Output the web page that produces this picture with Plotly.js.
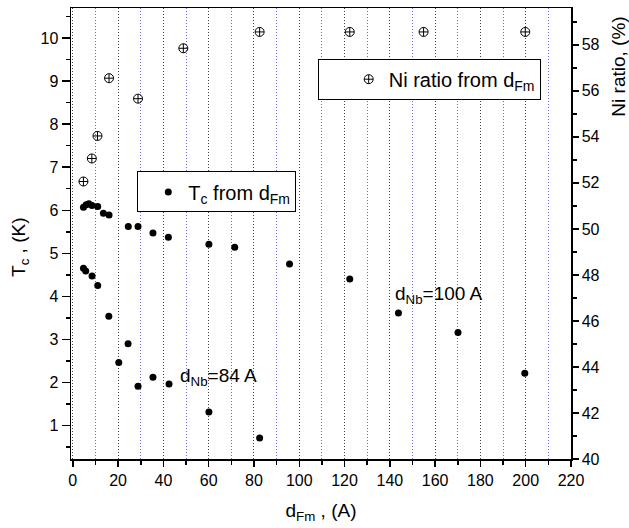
<!DOCTYPE html>
<html>
<head>
<meta charset="utf-8">
<script src="https://cdn.plot.ly/plotly-3.0.1.min.js"></script>
<style>html,body{margin:0;padding:0;background:#fff;}#chart{width:629px;height:528px;}</style>
</head>
<body>
<div id="chart"></div>
<script>
// Ni ratio (right axis, %)
const niX = [4.7, 8.4, 10.9, 16.0, 28.8, 48.8, 82.5, 122.3, 154.9, 199.8];
const niY = [52.06, 53.06, 54.04, 56.55, 55.66, 57.85, 58.56, 58.56, 58.56, 58.56];

// Tc, upper branch (left axis, K)
const tcUpperX = [4.7, 5.9, 7.1, 8.5, 11.0, 13.5, 16.0, 24.5, 28.8, 35.4, 42.2, 60.1, 71.5, 95.7, 122.3, 143.8, 170.1, 199.6];
const tcUpperY = [6.07, 6.13, 6.15, 6.11, 6.09, 5.93, 5.89, 5.62, 5.62, 5.47, 5.37, 5.21, 5.14, 4.75, 4.40, 3.61, 3.16, 2.21];

// Tc, lower branch (left axis, K)
const tcLowerX = [4.7, 5.7, 8.5, 11.0, 15.9, 20.3, 24.4, 28.8, 35.4, 42.5, 60.1, 82.5];
const tcLowerY = [4.65, 4.59, 4.47, 4.25, 3.54, 2.46, 2.90, 1.91, 2.12, 1.96, 1.31, 0.71];

const xTicks = [0, 20, 40, 60, 80, 100, 120, 140, 160, 180, 200, 220];
const yLeftTicks = [1, 2, 3, 4, 5, 6, 7, 8, 9, 10];
const yRightTicks = [40, 42, 44, 46, 48, 50, 52, 54, 56, 58];

const FONT = 'Liberation Sans, Arial, sans-serif';

const traces = [
  {
    x: tcUpperX.concat(tcLowerX),
    y: tcUpperY.concat(tcLowerY),
    type: 'scatter', mode: 'markers',
    name: 'T<sub>c</sub> from d<sub>Fm</sub>',
    marker: {symbol: 'circle', size: 7, color: '#000'},
    xaxis: 'x', yaxis: 'y',
    legend: 'legend'
  },
  {
    x: niX, y: niY,
    type: 'scatter', mode: 'markers',
    name: 'Ni ratio from d<sub>Fm</sub>',
    marker: {symbol: 'circle-cross-open', size: 9, color: '#000', line: {width: 1, color: '#000'}},
    xaxis: 'x', yaxis: 'y2',
    legend: 'legend2'
  }
];

const axisCommon = {
  showline: true, linecolor: '#000', linewidth: 1.5,
  ticks: 'outside', tickcolor: '#000', tickwidth: 1.5,
  tickfont: {family: FONT, size: 16, color: '#000'},
  zeroline: false
};

const layout = {
  width: 629, height: 528,
  margin: {l: 71, r: 58, t: 8, b: 69},
  paper_bgcolor: '#fff', plot_bgcolor: '#fff',
  font: {family: FONT, color: '#000'},
  showlegend: true,
  xaxis: Object.assign({}, axisCommon, {
    range: [-0.8, 220], tickvals: xTicks, ticklen: 6,
    mirror: true,
    showgrid: true, gridcolor: '#444', griddash: '1px,2px', gridwidth: 1,
    minor: {dtick: 10, tick0: 0, ticks: 'outside', ticklen: 4, tickcolor: '#000',
            showgrid: true, gridcolor: '#6a6acc', griddash: '1px,2px', gridwidth: 1},
    title: {text: 'd<sub>Fm</sub> , (A)', font: {family: FONT, size: 19, color: '#000'}, standoff: 16}
  }),
  yaxis: Object.assign({}, axisCommon, {
    range: [0.22, 10.7], tickvals: yLeftTicks, ticklen: 8,
    showgrid: false,
    minor: {dtick: 0.5, tick0: 0, ticks: 'outside', ticklen: 4, tickcolor: '#000', showgrid: false}
  }),
  yaxis2: Object.assign({}, axisCommon, {
    range: [40, 59.6], tickvals: yRightTicks, ticklen: 6,
    overlaying: 'y', side: 'right', showgrid: false,
    minor: {dtick: 1, tick0: 0, ticks: 'outside', ticklen: 4, tickcolor: '#000', showgrid: false}
  }),
  legend: {
    x: 0.1326, y: 0.6377, xanchor: 'left', yanchor: 'top',
    bgcolor: '#fff', bordercolor: '#000', borderwidth: 1,
    font: {family: FONT, size: 20, color: '#000'},
    indentation: 10
  },
  legend2: {
    x: 0.4934, y: 0.8876, xanchor: 'left', yanchor: 'top',
    bgcolor: '#fff', bordercolor: '#000', borderwidth: 1,
    font: {family: FONT, size: 20, color: '#000'},
    indentation: 30
  },
  annotations: [
    {text: 'T<sub>c</sub> , (K)', xref: 'paper', yref: 'paper', x: -0.102, y: 0.468,
     xanchor: 'center', yanchor: 'middle',
     textangle: -90, showarrow: false, font: {family: FONT, size: 19, color: '#000'}},
    {text: 'Ni ratio, (%)', xref: 'paper', yref: 'paper', x: 1.096, y: 0.87,
     xanchor: 'center', yanchor: 'middle',
     textangle: -90, showarrow: false, font: {family: FONT, size: 19, color: '#000'}},
    {text: 'd<sub>Nb</sub>=84 A', xref: 'x', yref: 'y', x: 46.4, y: 2.12,
     xanchor: 'left', yanchor: 'middle', showarrow: false, font: {family: FONT, size: 19, color: '#000'}},
    {text: 'd<sub>Nb</sub>=100 A', xref: 'x', yref: 'y', x: 141.3, y: 4.02,
     xanchor: 'left', yanchor: 'middle', showarrow: false, font: {family: FONT, size: 19, color: '#000'}}
  ]
};

Plotly.newPlot('chart', traces, layout, {displayModeBar: false, staticPlot: true});
</script>
</body>
</html>
